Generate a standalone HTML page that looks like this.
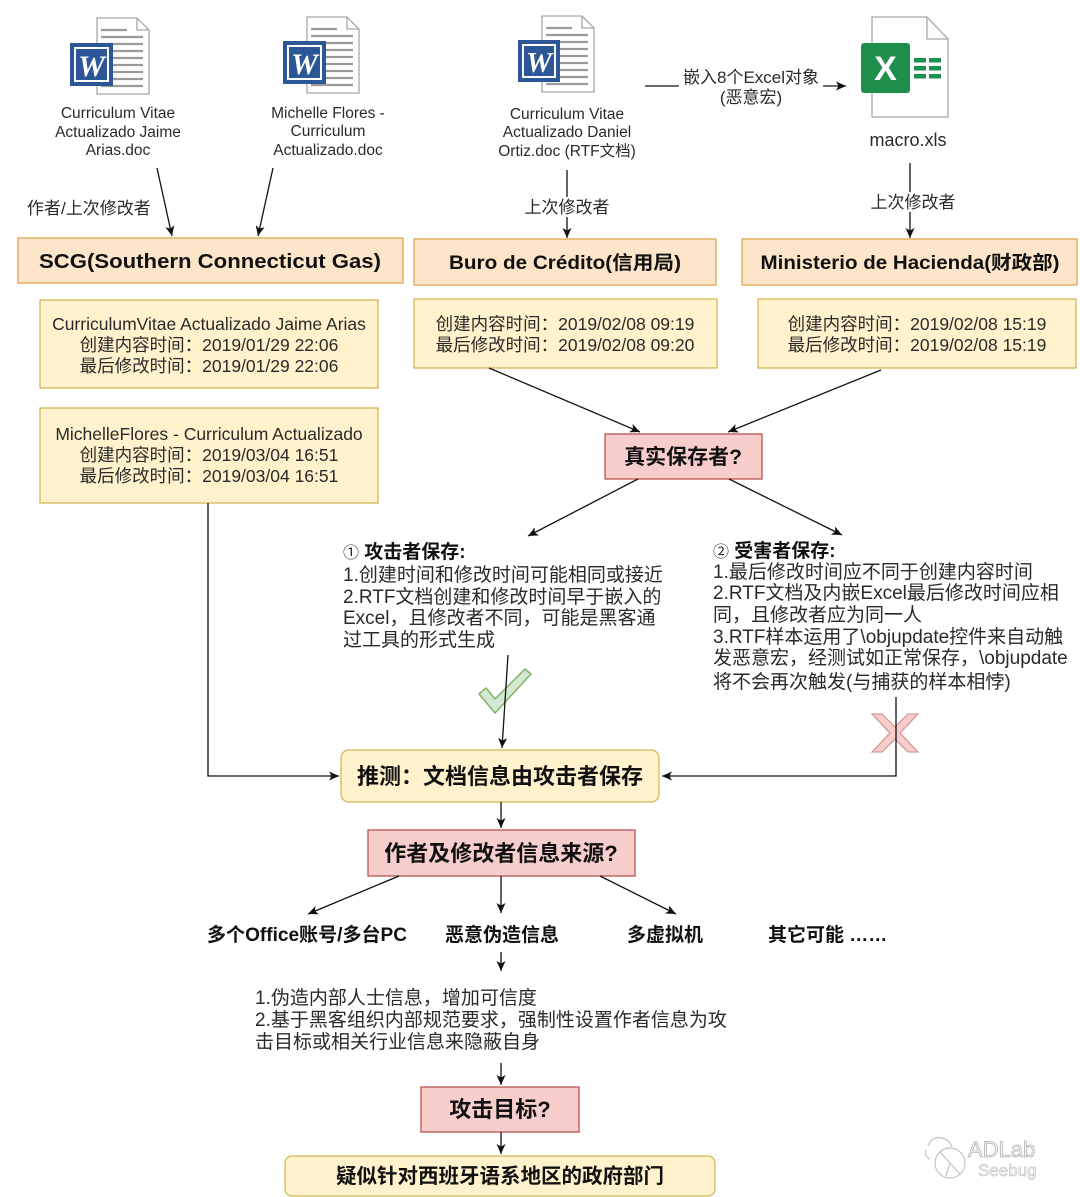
<!DOCTYPE html>
<html><head><meta charset="utf-8"><style>
html,body{margin:0;padding:0;background:#fff;}
svg{display:block;}
text{font-family:"Liberation Sans","Noto Sans CJK SC",sans-serif;}
.n{fill:#2a2a2a;}
.b{fill:#111;font-weight:700;}
.ln{stroke:#111;stroke-width:1.3;fill:none;}
</style></head><body>
<svg width="1080" height="1197" viewBox="0 0 1080 1197" xmlns="http://www.w3.org/2000/svg">
<defs>
<marker id="a" markerWidth="11" markerHeight="10" refX="10" refY="4.5" orient="auto" markerUnits="userSpaceOnUse">
<path d="M0,0 L10,4.5 L0,9 L2.5,4.5 z" fill="#111"/>
</marker>
<g id="doclines" stroke="#9a9a9a" stroke-width="2.2">
<line x1="4" y1="12" x2="30" y2="12"/><line x1="4" y1="19" x2="46" y2="19"/><line x1="4" y1="26" x2="46" y2="26"/><line x1="4" y1="33" x2="46" y2="33"/><line x1="4" y1="40" x2="46" y2="40"/><line x1="4" y1="47" x2="46" y2="47"/><line x1="4" y1="54" x2="46" y2="54"/><line x1="4" y1="61" x2="46" y2="61"/><line x1="4" y1="68" x2="46" y2="68"/>
</g>
</defs>

<!-- Word icon 1 -->
<g transform="translate(97,18)">
<path d="M0,0 H40 L52,12 V76 H0 Z" fill="#fff" stroke="#a8a8a8" stroke-width="1.3"/>
<path d="M40,0 V12 H52" fill="none" stroke="#a8a8a8" stroke-width="1.3"/>
<use href="#doclines"/>
</g>
<g transform="translate(70,43)">
<rect x="0" y="0" width="43" height="43" fill="#2b5797"/>
<rect x="4" y="4" width="35" height="35" fill="#fff"/>
<rect x="6" y="6" width="31" height="31" fill="#2b5797"/>
<text x="21.5" y="33" text-anchor="middle" font-style="italic" font-weight="700" font-size="30" fill="#fff" style="font-family:'Liberation Serif',serif">W</text>
</g>
<!-- Word icon 2 -->
<g transform="translate(307,17)">
<path d="M0,0 H40 L52,12 V76 H0 Z" fill="#fff" stroke="#a8a8a8" stroke-width="1.3"/>
<path d="M40,0 V12 H52" fill="none" stroke="#a8a8a8" stroke-width="1.3"/>
<use href="#doclines"/>
</g>
<g transform="translate(283,41)">
<rect x="0" y="0" width="43" height="43" fill="#2b5797"/>
<rect x="4" y="4" width="35" height="35" fill="#fff"/>
<rect x="6" y="6" width="31" height="31" fill="#2b5797"/>
<text x="21.5" y="33" text-anchor="middle" font-style="italic" font-weight="700" font-size="30" fill="#fff" style="font-family:'Liberation Serif',serif">W</text>
</g>
<!-- Word icon 3 -->
<g transform="translate(542,16)">
<path d="M0,0 H40 L52,12 V76 H0 Z" fill="#fff" stroke="#a8a8a8" stroke-width="1.3"/>
<path d="M40,0 V12 H52" fill="none" stroke="#a8a8a8" stroke-width="1.3"/>
<use href="#doclines"/>
</g>
<g transform="translate(518,40)">
<rect x="0" y="0" width="42" height="42" fill="#2b5797"/>
<rect x="4" y="4" width="34" height="34" fill="#fff"/>
<rect x="6" y="6" width="30" height="30" fill="#2b5797"/>
<text x="21" y="32" text-anchor="middle" font-style="italic" font-weight="700" font-size="29" fill="#fff" style="font-family:'Liberation Serif',serif">W</text>
</g>

<!-- Excel icon -->
<g>
<path d="M872,17 H927 L948,39 V117 H872 Z" fill="#fff" stroke="#a8a8a8" stroke-width="1.3"/>
<path d="M927,17 V39 H948" fill="none" stroke="#a8a8a8" stroke-width="1.3"/>
<g fill="#1f8f4e">
<rect x="914" y="58" width="12" height="4.5"/><rect x="929" y="58" width="12" height="4.5"/>
<rect x="914" y="66" width="12" height="4.5"/><rect x="929" y="66" width="12" height="4.5"/>
<rect x="914" y="74" width="12" height="4.5"/><rect x="929" y="74" width="12" height="4.5"/>
</g>
<rect x="861" y="43" width="49" height="50" rx="3" fill="#1f8f4e"/>
<text x="885.5" y="80" text-anchor="middle" font-weight="700" font-size="34" fill="#fff">X</text>
</g>

<!-- File labels -->
<g class="n" font-size="15.5" text-anchor="middle">
<text x="118" y="118">Curriculum Vitae</text>
<text x="118" y="137">Actualizado Jaime</text>
<text x="118" y="155">Arias.doc</text>
<text x="328" y="118">Michelle Flores -</text>
<text x="328" y="136">Curriculum</text>
<text x="328" y="155">Actualizado.doc</text>
<text x="567" y="119">Curriculum Vitae</text>
<text x="567" y="137">Actualizado Daniel</text>
<text x="567" y="156">Ortiz.doc (RTF文档)</text>
</g>
<text class="n" x="908" y="146" text-anchor="middle" font-size="18">macro.xls</text>

<!-- Embed arrow -->
<line class="ln" x1="645" y1="86" x2="679" y2="86"/>
<line class="ln" x1="823" y1="86" x2="846" y2="86" marker-end="url(#a)"/>
<text class="n" x="751" y="83" text-anchor="middle" font-size="17">嵌入8个Excel对象</text>
<text class="n" x="751" y="103" text-anchor="middle" font-size="17">(恶意宏)</text>

<!-- Top arrows -->
<line class="ln" x1="157" y1="168" x2="172" y2="236" marker-end="url(#a)"/>
<line class="ln" x1="273" y1="168" x2="258" y2="236" marker-end="url(#a)"/>
<text class="n" x="27" y="214" font-size="17">作者/上次修改者</text>
<line class="ln" x1="567" y1="170" x2="567" y2="197"/>
<line class="ln" x1="567" y1="217" x2="567" y2="238" marker-end="url(#a)"/>
<text class="n" x="567" y="213" text-anchor="middle" font-size="17">上次修改者</text>
<line class="ln" x1="910" y1="163" x2="910" y2="192"/>
<line class="ln" x1="910" y1="212" x2="910" y2="238" marker-end="url(#a)"/>
<text class="n" x="913" y="208" text-anchor="middle" font-size="17">上次修改者</text>

<!-- Title boxes -->
<rect x="18" y="238" width="385" height="45" fill="#fde5c9" stroke="#e0a64e" stroke-width="1.3"/>
<text class="b" x="210" y="268" text-anchor="middle" font-size="20" textLength="342" lengthAdjust="spacingAndGlyphs">SCG(Southern Connecticut Gas)</text>
<rect x="414" y="239" width="302" height="46" fill="#fde5c9" stroke="#e0a64e" stroke-width="1.3"/>
<text class="b" x="565" y="269" text-anchor="middle" font-size="19" textLength="232" lengthAdjust="spacingAndGlyphs">Buro de Crédito(信用局)</text>
<rect x="742" y="239" width="335" height="46" fill="#fde5c9" stroke="#e0a64e" stroke-width="1.3"/>
<text class="b" x="910" y="269" text-anchor="middle" font-size="19" textLength="299" lengthAdjust="spacingAndGlyphs">Ministerio de Hacienda(财政部)</text>

<!-- Info boxes -->
<g fill="#fff2cc" stroke="#d6b656" stroke-width="1.3">
<rect x="40" y="300" width="338" height="88"/>
<rect x="40" y="408" width="338" height="95"/>
<rect x="414" y="299" width="303" height="69"/>
<rect x="758" y="299" width="318" height="69"/>
</g>
<g class="n" font-size="17.5" text-anchor="middle">
<text x="209" y="330">CurriculumVitae Actualizado Jaime Arias</text>
<text x="209" y="351">创建内容时间：2019/01/29 22:06</text>
<text x="209" y="372">最后修改时间：2019/01/29 22:06</text>
<text x="209" y="440">MichelleFlores - Curriculum Actualizado</text>
<text x="209" y="461">创建内容时间：2019/03/04 16:51</text>
<text x="209" y="482">最后修改时间：2019/03/04 16:51</text>
<text x="565" y="330">创建内容时间：2019/02/08 09:19</text>
<text x="565" y="351">最后修改时间：2019/02/08 09:20</text>
<text x="917" y="330">创建内容时间：2019/02/08 15:19</text>
<text x="917" y="351">最后修改时间：2019/02/08 15:19</text>
</g>

<!-- Arrows to 真实保存者 -->
<line class="ln" x1="489" y1="368" x2="640" y2="432" marker-end="url(#a)"/>
<line class="ln" x1="881" y1="370" x2="728" y2="432" marker-end="url(#a)"/>
<rect x="605" y="434" width="157" height="45" fill="#f8cecc" stroke="#b85450" stroke-width="1.3"/>
<text class="b" x="683" y="464" text-anchor="middle" font-size="21">真实保存者?</text>
<line class="ln" x1="638" y1="479" x2="528" y2="536" marker-end="url(#a)"/>
<line class="ln" x1="729" y1="479" x2="842" y2="535" marker-end="url(#a)"/>

<!-- Left text block -->
<g font-size="19">
<text x="343" y="558"><tspan class="n" font-size="16">①</tspan><tspan class="b"> 攻击者保存:</tspan></text>
<text class="n" x="343" y="581">1.创建时间和修改时间可能相同或接近</text>
<text class="n" x="343" y="603">2.RTF文档创建和修改时间早于嵌入的</text>
<text class="n" x="343" y="624">Excel，且修改者不同，可能是黑客通</text>
<text class="n" x="343" y="646">过工具的形式生成</text>
</g>
<!-- Right text block -->
<g font-size="19">
<text x="713" y="557"><tspan class="n" font-size="16">②</tspan><tspan class="b"> 受害者保存:</tspan></text>
<text class="n" x="713" y="578">1.最后修改时间应不同于创建内容时间</text>
<text class="n" x="713" y="599">2.RTF文档及内嵌Excel最后修改时间应相</text>
<text class="n" x="713" y="621">同，且修改者应为同一人</text>
<text class="n" x="713" y="643">3.RTF样本运用了\objupdate控件来自动触</text>
<text class="n" x="713" y="664">发恶意宏，经测试如正常保存，\objupdate</text>
<text class="n" x="713" y="688">将不会再次触发(与捕获的样本相悖)</text>
</g>

<!-- Check mark -->
<path d="M479,694 L486,688 L495,699 L525,669 L531,674 L495,713 Z" fill="#d5e8d4" stroke="#82b366" stroke-width="1.5" stroke-linejoin="round"/>
<line class="ln" x1="508" y1="655" x2="502" y2="748" marker-end="url(#a)"/>

<!-- X mark -->
<path d="M872,714 L882,714 L895,727 L908,714 L918,714 L900,733 L918,752 L908,752 L895,739 L882,752 L872,752 L890,733 Z" fill="#f8cecc" stroke="#d49a98" stroke-width="1.3"/>
<path class="ln" d="M896,697 V776 H662" marker-end="url(#a)"/>

<!-- Left connector -->
<path class="ln" d="M208,503 V776 H339" marker-end="url(#a)"/>

<!-- 推测 box -->
<rect x="341" y="750" width="318" height="52" rx="8" fill="#fff2cc" stroke="#d6b656" stroke-width="1.3"/>
<text class="b" x="500" y="784" text-anchor="middle" font-size="22">推测：文档信息由攻击者保存</text>

<line class="ln" x1="501" y1="802" x2="501" y2="828" marker-end="url(#a)"/>
<rect x="368" y="830" width="267" height="46" fill="#f8cecc" stroke="#b85450" stroke-width="1.3"/>
<text class="b" x="501" y="861" text-anchor="middle" font-size="22">作者及修改者信息来源?</text>

<line class="ln" x1="399" y1="876" x2="308" y2="914" marker-end="url(#a)"/>
<line class="ln" x1="501" y1="876" x2="501" y2="913" marker-end="url(#a)"/>
<line class="ln" x1="600" y1="876" x2="676" y2="914" marker-end="url(#a)"/>

<g class="b" font-size="19">
<text x="207" y="941" textLength="200" lengthAdjust="spacingAndGlyphs">多个Office账号/多台PC</text>
<text x="445" y="941">恶意伪造信息</text>
<text x="627" y="941">多虚拟机</text>
<text x="768" y="941">其它可能 ……</text>
</g>

<line class="ln" x1="501" y1="952" x2="501" y2="971" marker-end="url(#a)"/>
<g class="n" font-size="19">
<text x="255" y="1004">1.伪造内部人士信息，增加可信度</text>
<text x="255" y="1026">2.基于黑客组织内部规范要求，强制性设置作者信息为攻</text>
<text x="255" y="1048">击目标或相关行业信息来隐蔽自身</text>
</g>
<line class="ln" x1="501" y1="1063" x2="501" y2="1085" marker-end="url(#a)"/>
<rect x="421" y="1087" width="158" height="45" fill="#f8cecc" stroke="#b85450" stroke-width="1.3"/>
<text class="b" x="500" y="1117" text-anchor="middle" font-size="22">攻击目标?</text>
<line class="ln" x1="501" y1="1132" x2="501" y2="1154" marker-end="url(#a)"/>
<rect x="285" y="1156" width="430" height="40" rx="7" fill="#fff2cc" stroke="#d6b656" stroke-width="1.3"/>
<text class="b" x="500" y="1183" text-anchor="middle" font-size="20.5">疑似针对西班牙语系地区的政府部门</text>

<!-- Watermark -->
<g fill="none" stroke="#c4c4c4" stroke-width="1.2">
<path d="M928,1146 q4,-10 14,-8 q8,2 10,9"/>
<path d="M926,1150 q-2,6 4,9"/>
<circle cx="950" cy="1163" r="15"/>
<path d="M940,1152 L950,1163 L946,1176 M950,1163 L960,1174"/>
</g>
<text x="968" y="1157" font-size="22" fill="#f4f4f4" stroke="#b5b5b5" stroke-width="0.8">ADLab</text>
<text x="978" y="1176" font-size="17" fill="#f4f4f4" stroke="#c8c8c8" stroke-width="0.7">Seebug</text>
</svg>
</body></html>
